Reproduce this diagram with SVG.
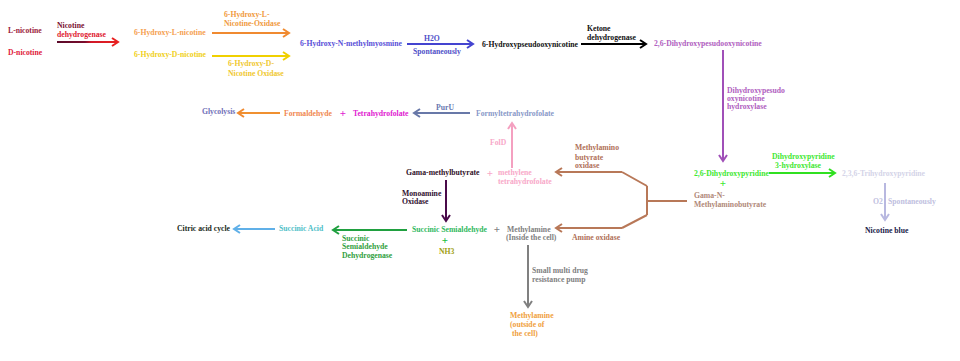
<svg xmlns="http://www.w3.org/2000/svg" width="960" height="361" viewBox="0 0 960 361">
<defs>
<style>
text{font-family:"Liberation Serif","Times New Roman",serif;font-weight:bold;font-size:7.7px}
.plus{font-size:11px;text-anchor:middle}
.c{fill:none;stroke-width:2}
</style>
<linearGradient id="gRed" gradientUnits="userSpaceOnUse" x1="57" y1="0" x2="119" y2="0"><stop offset="0" stop-color="#5a0a2a"/><stop offset="0.45" stop-color="#7a0c2c"/><stop offset="0.55" stop-color="#d01828"/><stop offset="1" stop-color="#e82020"/></linearGradient>
<marker id="mRed" viewBox="0 0 10 10" markerUnits="userSpaceOnUse" markerWidth="10" markerHeight="10" refX="7" refY="5" orient="auto"><path d="M1,1 L7,5 L1,9" fill="none" stroke="#e82020" stroke-width="2"/></marker>
<marker id="mOrange" viewBox="0 0 10 10" markerUnits="userSpaceOnUse" markerWidth="10" markerHeight="10" refX="7" refY="5" orient="auto"><path d="M1,1 L7,5 L1,9" fill="none" stroke="#f08a30" stroke-width="2"/></marker>
<marker id="mYellow" viewBox="0 0 10 10" markerUnits="userSpaceOnUse" markerWidth="10" markerHeight="10" refX="7" refY="5" orient="auto"><path d="M1,1 L7,5 L1,9" fill="none" stroke="#f0d000" stroke-width="2"/></marker>
<marker id="mBlue" viewBox="0 0 10 10" markerUnits="userSpaceOnUse" markerWidth="10" markerHeight="10" refX="7" refY="5" orient="auto"><path d="M1,1 L7,5 L1,9" fill="none" stroke="#4444d0" stroke-width="2"/></marker>
<marker id="mBlack" viewBox="0 0 10 10" markerUnits="userSpaceOnUse" markerWidth="10" markerHeight="10" refX="7" refY="5" orient="auto"><path d="M1,1 L7,5 L1,9" fill="none" stroke="#000" stroke-width="2"/></marker>
<marker id="mPurple" viewBox="0 0 10 10" markerUnits="userSpaceOnUse" markerWidth="10" markerHeight="10" refX="7" refY="5" orient="auto"><path d="M1,1 L7,5 L1,9" fill="none" stroke="#a050b8" stroke-width="2"/></marker>
<marker id="mPurU" viewBox="0 0 10 10" markerUnits="userSpaceOnUse" markerWidth="10" markerHeight="10" refX="7" refY="5" orient="auto"><path d="M1,1 L7,5 L1,9" fill="none" stroke="#6878a8" stroke-width="2"/></marker>
<marker id="mPink" viewBox="0 0 10 10" markerUnits="userSpaceOnUse" markerWidth="10" markerHeight="10" refX="7" refY="5" orient="auto"><path d="M1,1 L7,5 L1,9" fill="none" stroke="#f4a0c0" stroke-width="2"/></marker>
<marker id="mBrown" viewBox="0 0 10 10" markerUnits="userSpaceOnUse" markerWidth="10" markerHeight="10" refX="7" refY="5" orient="auto"><path d="M1,1 L7,5 L1,9" fill="none" stroke="#b87858" stroke-width="2"/></marker>
<marker id="mGreen" viewBox="0 0 10 10" markerUnits="userSpaceOnUse" markerWidth="10" markerHeight="10" refX="7" refY="5" orient="auto"><path d="M1,1 L7,5 L1,9" fill="none" stroke="#30e020" stroke-width="2"/></marker>
<marker id="mLav" viewBox="0 0 10 10" markerUnits="userSpaceOnUse" markerWidth="10" markerHeight="10" refX="7" refY="5" orient="auto"><path d="M1,1 L7,5 L1,9" fill="none" stroke="#b8b8e0" stroke-width="2"/></marker>
<marker id="mDark" viewBox="0 0 10 10" markerUnits="userSpaceOnUse" markerWidth="10" markerHeight="10" refX="7" refY="5" orient="auto"><path d="M1,1 L7,5 L1,9" fill="none" stroke="#4a0a4a" stroke-width="2"/></marker>
<marker id="mSky" viewBox="0 0 10 10" markerUnits="userSpaceOnUse" markerWidth="10" markerHeight="10" refX="7" refY="5" orient="auto"><path d="M1,1 L7,5 L1,9" fill="none" stroke="#60b0e8" stroke-width="2"/></marker>
<marker id="mDGreen" viewBox="0 0 10 10" markerUnits="userSpaceOnUse" markerWidth="10" markerHeight="10" refX="7" refY="5" orient="auto"><path d="M1,1 L7,5 L1,9" fill="none" stroke="#20a040" stroke-width="2"/></marker>
<marker id="mGrey" viewBox="0 0 10 10" markerUnits="userSpaceOnUse" markerWidth="10" markerHeight="10" refX="7" refY="5" orient="auto"><path d="M1,1 L7,5 L1,9" fill="none" stroke="#808080" stroke-width="2"/></marker>
</defs>
<rect width="960" height="361" fill="#fff"/>

<g id="connectors">
<path class="c" d="M57,42 H118" stroke="url(#gRed)" marker-end="url(#mRed)"/>
<path class="c" d="M212,33 H289" stroke="#f08a30" marker-end="url(#mOrange)"/>
<path class="c" d="M212,56 H289" stroke="#f0d000" marker-end="url(#mYellow)"/>
<path class="c" d="M407,44 H473" stroke="#4444d0" marker-end="url(#mBlue)"/>
<path class="c" d="M581,44 H646" stroke="#000" marker-end="url(#mBlack)"/>
<path class="c" d="M723,50 V161" stroke="#a050b8" marker-end="url(#mPurple)"/>
<path class="c" d="M280,113 H238" stroke="#f09030" marker-end="url(#mOrange)"/>
<path class="c" d="M470,113 H414" stroke="#6878a8" marker-end="url(#mPurU)"/>
<path class="c" d="M512,168 V123" stroke="#f4a0c0" marker-end="url(#mPink)"/>
<path class="c" d="M687,201 H647 M647,186 V215 M622,172 L647,186 M647,215 L622,228" stroke="#b87858"/>
<path class="c" d="M622,172 H556" stroke="#b87858" marker-end="url(#mBrown)"/>
<path class="c" d="M622,228 H556" stroke="#b87858" marker-end="url(#mBrown)"/>
<path class="c" d="M769,173 H835" stroke="#30e020" marker-end="url(#mGreen)"/>
<path class="c" d="M885,183 V220" stroke="#b8b8e0" marker-end="url(#mLav)"/>
<path class="c" d="M446,180 V221" stroke="#4a0a4a" marker-end="url(#mDark)"/>
<path class="c" d="M275,229 H234" stroke="#60b0e8" marker-end="url(#mSky)"/>
<path class="c" d="M407,230 H333" stroke="#20a040" marker-end="url(#mDGreen)"/>
<path class="c" d="M528,245 V307" stroke="#808080" marker-end="url(#mGrey)"/>
</g>

<g id="labels">
<text x="57" y="27.5" fill="#7a1030">Nicotine</text>
<text x="57" y="36.5" fill="#e02030">dehydrogenase</text>
<text x="224" y="17" fill="#f09a40">6-Hydroxy-L-</text>
<text x="224" y="26" fill="#f09a40">Nicotine-Oxidase</text>
<text x="228" y="66.4" fill="#f0c830">6-Hydroxy-D-</text>
<text x="228" y="75.7" fill="#f0c830">Nicotine Oxidase</text>
<text x="424" y="41.3" fill="#5050c8">H2O</text>
<text x="413" y="54" fill="#5050c8">Spontaneously</text>
<text x="587" y="30.5" fill="#111">Ketone</text>
<text x="587" y="39.5" fill="#111">dehydrogenase</text>
<text x="727" y="92.5" fill="#b060c0">Dihydroxypesudo</text>
<text x="727" y="101" fill="#b060c0">oxynicotine</text>
<text x="727" y="108.5" fill="#b060c0">hydroxylase</text>
<text x="436" y="110.2" fill="#6878b0">PurU</text>
<text x="490" y="144.5" fill="#f8a8c8">FolD</text>
<text x="575" y="149.5" fill="#b07058">Methylamino</text>
<text x="575" y="159.5" fill="#b07058">butyrate</text>
<text x="575" y="168" fill="#b07058">oxidase</text>
<text x="572" y="239.5" fill="#b07058">Amine oxidase</text>
<text x="772" y="158.5" fill="#40e830">Dihydroxypyridine</text>
<text x="775" y="167.5" fill="#40e830">3-hydroxylase</text>
<text x="873" y="203.5" fill="#c0c0e0">O2</text>
<text x="888" y="203.5" fill="#c0c0e0">Spontaneously</text>
<text x="402" y="195.5" fill="#301030">Monoamine</text>
<text x="402" y="204" fill="#301030">Oxidase</text>
<text x="342" y="241" fill="#30a040">Succinic</text>
<text x="342" y="249.3" fill="#30a040">Semialdehyde</text>
<text x="342" y="258.3" fill="#30a040">Dehydrogenase</text>
<text x="532" y="273.3" fill="#808080">Small multi drug</text>
<text x="532" y="282.3" fill="#808080">resistance pump</text>
</g>

<g id="n-lnicotine"><text x="8" y="32.7" fill="#9b1b3b">L-nicotine</text></g>
<g id="n-dnicotine"><text x="8" y="55" fill="#e0203a">D-nicotine</text></g>
<g id="n-6hln"><text x="134" y="34.5" fill="#f5a050">6-Hydroxy-L-nicotine</text></g>
<g id="n-6hdn"><text x="134" y="56.5" fill="#f0d020">6-Hydroxy-D-nicotine</text></g>
<g id="n-6hnmm"><text x="300" y="46" fill="#5a50d8">6-Hydroxy-N-methylmyosmine</text></g>
<g id="n-6hpon"><text x="482" y="46.5" fill="#111">6-Hydroxypseudooxynicotine</text></g>
<g id="n-26dhpon"><text x="654" y="46.3" fill="#b060c0">2,6-Dihydroxypesudooxynicotine</text></g>
<g id="n-glycolysis"><text x="202" y="114" fill="#7070b8">Glycolysis</text></g>
<g id="n-formaldehyde"><text x="284" y="115.5" fill="#f08850">Formaldehyde</text><text class="plus" x="343" y="116.8" fill="#e020d0">+</text></g>
<g id="n-thf"><text x="353" y="115.5" fill="#e020d0">Tetrahydrofolate</text></g>
<g id="n-formylthf"><text x="476" y="115.5" fill="#8898c8">Formyltetrahydrofolate</text></g>
<g id="n-gmb"><text x="406" y="175.3" fill="#301028">Gama-methylbutyrate</text><text class="plus" x="490" y="176.5" fill="#f8a8c8">+</text></g>
<g id="n-methylenethf"><text x="498" y="175.3" fill="#f8a8c8">methylene</text><text x="498" y="183.5" fill="#f8a8c8">tetrahydrofolate</text></g>
<g id="n-26dhp"><text x="694" y="175.5" fill="#40e830">2,6-Dihydroxypyridine</text><text class="plus" x="723" y="186.5" fill="#40e830">+</text></g>
<g id="n-gnmab"><text x="694" y="197.5" fill="#b08878">Gama-N-</text><text x="694" y="206.5" fill="#b08878">Methylaminobutyrate</text></g>
<g id="n-236thp"><text x="842" y="175.5" fill="#d4d4e8">2,3,6-Trihydroxypyridine</text></g>
<g id="n-nicotineblue"><text x="865" y="232.5" fill="#202048">Nicotine blue</text></g>
<g id="n-citric"><text x="177" y="231" fill="#1a2a1a">Citric acid cycle</text></g>
<g id="n-succinicacid"><text x="279" y="231" fill="#50c0c8">Succinic Acid</text></g>
<g id="n-ssa"><text x="412" y="231.5" fill="#30b860">Succinic Semialdehyde</text><text class="plus" x="445" y="243.5" fill="#20c040">+</text><text x="439" y="254.3" fill="#a0a010">NH3</text><text class="plus" x="497" y="232.5" fill="#808080">+</text></g>
<g id="n-methylamine-in"><text x="507" y="231.5" fill="#808080">Methylamine</text><text x="506" y="240.3" fill="#808080">(Inside the cell)</text></g>
<g id="n-methylamine-out"><text x="510" y="318.3" fill="#f0a040">Methylamine</text><text x="510" y="327.3" fill="#f0a040">(outside of</text><text x="512" y="336" fill="#f0a040">the cell)</text></g>
</svg>
